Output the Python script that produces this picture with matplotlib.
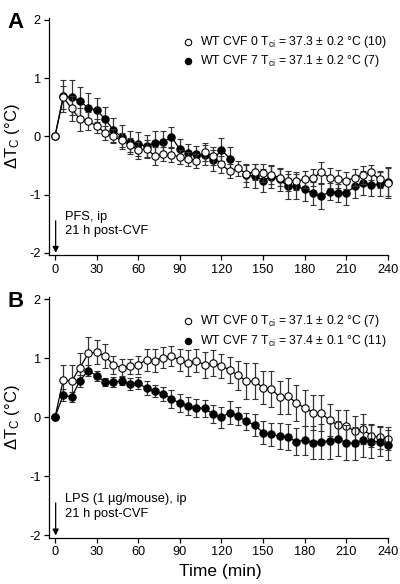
import matplotlib
matplotlib.use("Agg")
import matplotlib.pyplot as plt
import numpy as np

plt.rcParams["font.family"] = ["Liberation Sans", "DejaVu Sans"]
plt.rcParams["axes.unicode_minus"] = False
plt.rcParams["mathtext.fontset"] = "custom"
plt.rcParams["mathtext.rm"] = "Liberation Sans"
plt.rcParams["mathtext.it"] = "Liberation Sans"

## DATA
time = [0, 6, 12, 18, 24, 30, 36, 42, 48, 54, 60, 66, 72, 78, 84, 90, 96, 102,
        108, 114, 120, 126, 132, 138, 144, 150, 156, 162, 168, 174, 180, 186,
        192, 198, 204, 210, 216, 222, 228, 234, 240]

# panel A (PFS)
a_cvf0 = [0, 0.67, 0.48, 0.29, 0.26, 0.18, 0.06, 0.0, -0.07, -0.14, -0.24, -0.21,
          -0.34, -0.31, -0.32, -0.35, -0.39, -0.42, -0.27, -0.34, -0.48, -0.6,
          -0.55, -0.64, -0.61, -0.63, -0.66, -0.71, -0.77, -0.77, -0.74, -0.71,
          -0.62, -0.71, -0.73, -0.76, -0.71, -0.66, -0.62, -0.74, -0.8]
a_cvf0_err = [0, 0.2, 0.22, 0.2, 0.15, 0.12, 0.12, 0.12, 0.12, 0.12, 0.15, 0.15,
              0.15, 0.12, 0.12, 0.12, 0.12, 0.12, 0.15, 0.15, 0.15, 0.12, 0.13,
              0.15, 0.14, 0.15, 0.15, 0.15, 0.17, 0.15, 0.15, 0.15, 0.18, 0.17,
              0.15, 0.15, 0.15, 0.15, 0.13, 0.15, 0.25]
a_cvf7 = [0, 0.69, 0.67, 0.6, 0.49, 0.45, 0.3, 0.11, -0.01, -0.1, -0.13, -0.17,
          -0.11, -0.1, -0.01, -0.22, -0.28, -0.31, -0.32, -0.41, -0.23, -0.38,
          np.nan, -0.67, -0.68, -0.76, -0.69, -0.74, -0.86, -0.86, -0.91, -0.98,
          -1.03, -0.95, -0.97, -0.97, -0.86, -0.8, -0.83, -0.82, -0.78]
a_cvf7_err = [0, 0.28, 0.3, 0.25, 0.25, 0.2, 0.2, 0.2, 0.2, 0.2, 0.2, 0.2, 0.2,
              0.2, 0.17, 0.17, 0.15, 0.15, 0.17, 0.18, 0.2, 0.2, np.nan, 0.2,
              0.2, 0.2, 0.2, 0.2, 0.22, 0.22, 0.2, 0.2, 0.22, 0.15, 0.15, 0.2,
              0.2, 0.2, 0.2, 0.2, 0.25]

# panel B (LPS)
b_cvf0 = [0, 0.63, 0.61, 0.84, 1.08, 1.1, 1.04, 0.89, 0.84, 0.86, 0.89, 0.97,
          0.96, 1.01, 1.03, 0.97, 0.91, 0.96, 0.88, 0.91, 0.87, 0.8, 0.71, 0.61,
          0.61, 0.5, 0.48, 0.34, 0.36, 0.24, 0.16, 0.08, 0.07, -0.05, -0.13,
          -0.15, -0.23, -0.2, -0.31, -0.34, -0.36]
b_cvf0_err = [0, 0.25, 0.28, 0.25, 0.27, 0.2, 0.2, 0.15, 0.15, 0.12, 0.15, 0.18,
              0.2, 0.18, 0.17, 0.18, 0.22, 0.2, 0.22, 0.22, 0.2, 0.22, 0.25, 0.3,
              0.3, 0.28, 0.3, 0.28, 0.3, 0.3, 0.3, 0.3, 0.3, 0.27, 0.25, 0.27,
              0.25, 0.25, 0.2, 0.2, 0.2]
b_cvf7 = [0, 0.38, 0.34, 0.62, 0.79, 0.7, 0.6, 0.6, 0.61, 0.56, 0.58, 0.49, 0.44,
          0.4, 0.31, 0.24, 0.19, 0.16, 0.15, 0.05, 0.0, 0.08, 0.02, -0.07, -0.13,
          -0.26, -0.29, -0.32, -0.34, -0.41, -0.39, -0.43, -0.41, -0.4, -0.36,
          -0.43, -0.44, -0.39, -0.41, -0.41, -0.47]
b_cvf7_err = [0, 0.1, 0.08, 0.1, 0.1, 0.08, 0.07, 0.08, 0.07, 0.1, 0.1, 0.12,
              0.1, 0.12, 0.15, 0.15, 0.15, 0.15, 0.15, 0.15, 0.18, 0.2, 0.15,
              0.15, 0.18, 0.2, 0.2, 0.22, 0.22, 0.22, 0.25, 0.28, 0.3, 0.3, 0.3,
              0.3, 0.28, 0.28, 0.28, 0.25, 0.25]

legend_a = [r"WT CVF 0 T$_{\mathrm{ci}}$ = 37.3 ± 0.2 °C (10)",
            r"WT CVF 7 T$_{\mathrm{ci}}$ = 37.1 ± 0.2 °C (7)"]
legend_b = [r"WT CVF 0 T$_{\mathrm{ci}}$ = 37.1 ± 0.2 °C (7)",
            r"WT CVF 7 T$_{\mathrm{ci}}$ = 37.4 ± 0.1 °C (11)"]
notes_a = ["PFS, ip", "21 h post-CVF"]
notes_b = ["LPS (1 µg/mouse), ip", "21 h post-CVF"]

fig = plt.figure(figsize=(4.0, 5.84), dpi=100)
ax_a = fig.add_axes([0.1225, 0.563, 0.8575, 0.406])
ax_b = fig.add_axes([0.1225, 0.079, 0.8575, 0.412])


def panel(ax, y0, e0, y7, e7, labels, notes, letter, open_top):
    style = dict(color="black", ecolor="#333333", elinewidth=0.9, capsize=2.5,
                 capthick=0.9, lw=0.9, marker="o", markersize=5.3, mew=0.8,
                 markeredgecolor="black")
    z_open, z_fill = (3, 2) if open_top else (2, 3)
    ax.errorbar(time, y7, yerr=e7, markerfacecolor="black", zorder=z_fill, **style)
    ax.errorbar(time, y0, yerr=e0, markerfacecolor="white", zorder=z_open, **style)

    ax.set_xlim(-4.3, 243)
    ax.set_ylim(-2.04, 2.03)
    ax.set_xticks(range(0, 241, 30))
    ax.set_yticks([-2, -1, 0, 1, 2])
    ax.spines["top"].set_visible(False)
    ax.spines["right"].set_visible(False)
    ax.spines["bottom"].set_bounds(-4.3, 240)
    ax.tick_params(direction="out", length=3.5, width=0.9, labelsize=9.2, pad=2.5)
    for s in ("left", "bottom"):
        ax.spines[s].set_linewidth(0.9)
    ax.set_ylabel(r"$\Delta$T$_{\mathrm{C}}$ (°C)", fontsize=12, labelpad=5)

    # legend
    for i, (lab, fc) in enumerate(zip(labels, ["white", "black"])):
        yy = 0.9 - i * 0.082
        ax.plot([0.405], [yy], transform=ax.transAxes, marker="o", markersize=4.6,
                mfc=fc, mec="black", mew=0.8, clip_on=False)
        ax.text(0.44, yy, lab, transform=ax.transAxes, fontsize=8.8, va="center")

    # injection arrow and notes
    ax.annotate("", xy=(0.5, -2.0), xytext=(0.5, -1.45),
                arrowprops=dict(arrowstyle="-|>", color="black", lw=0.9,
                                mutation_scale=9, shrinkA=0, shrinkB=0))
    ax.text(7.5, -1.38, notes[0], fontsize=9.3, va="center")
    ax.text(7.5, -1.63, notes[1], fontsize=9.3, va="center")

    fig.text(0.018, ax.get_position().y1 - 0.008, letter, fontsize=16,
             fontweight="bold", va="center")


panel(ax_a, a_cvf0, a_cvf0_err, a_cvf7, a_cvf7_err, legend_a, notes_a, "A", True)
panel(ax_b, b_cvf0, b_cvf0_err, b_cvf7, b_cvf7_err, legend_b, notes_b, "B", False)
ax_b.set_xlabel("Time (min)", fontsize=12.5, labelpad=4)

fig.savefig("out.png", dpi=100)
